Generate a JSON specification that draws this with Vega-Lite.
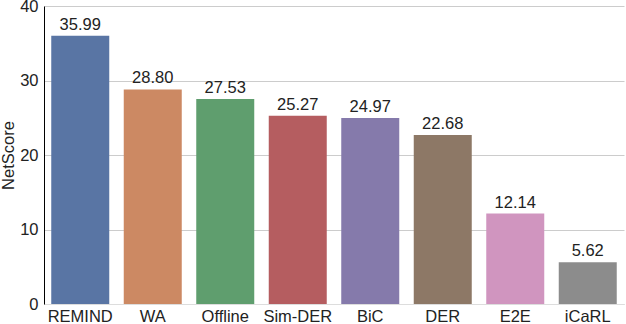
{
  "$schema": "https://vega.github.io/schema/vega-lite/v6.json",
  "autosize": {"type": "none"},
  "padding": {"left": 44, "top": 6, "right": 2, "bottom": 20},
  "width": 580,
  "height": 298,
  "config": {
    "view": {"stroke": null},
    "font": "Liberation Sans",
    "axis": {"labelFont": "Liberation Sans", "titleFont": "Liberation Sans", "labelColor": "#222", "titleColor": "#222", "titleFontWeight": "normal"}
  },
  "data": {"values": [
    {"method": "REMIND", "score": 35.99},
    {"method": "WA", "score": 28.80},
    {"method": "Offline", "score": 27.53},
    {"method": "Sim-DER", "score": 25.27},
    {"method": "BiC", "score": 24.97},
    {"method": "DER", "score": 22.68},
    {"method": "E2E", "score": 12.14},
    {"method": "iCaRL", "score": 5.62}
  ]},
  "encoding": {
    "x": {"field": "method", "type": "nominal", "sort": null, "title": null,
      "scale": {"paddingInner": 0.2, "paddingOuter": 0.1},
      "axis": {"labelAngle": 0, "labelFontSize": 16.5, "ticks": false, "labelPadding": 4, "domainColor": "#dddddd", "labelBaseline": "top"}},
    "y": {"field": "score", "type": "quantitative", "title": "NetScore",
      "scale": {"domain": [0, 40]},
      "axis": {"values": [0, 10, 20, 30, 40], "labelFontSize": 16.5, "titleFontSize": 16.5, "ticks": false, "labelPadding": 6, "domainColor": "#000000", "gridColor": "#cccccc", "titlePadding": 3}}
  },
  "layer": [
    {"mark": {"type": "bar"},
     "encoding": {"color": {"field": "method", "type": "nominal", "sort": null, "legend": null,
       "scale": {"domain": ["REMIND", "WA", "Offline", "Sim-DER", "BiC", "DER", "E2E", "iCaRL"],
                 "range": ["#5975A4", "#CC8963", "#5F9E6E", "#B55D60", "#857AAB", "#8D7866", "#D095BF", "#8C8C8C"]}}}},
    {"mark": {"type": "text", "baseline": "bottom", "dy": -3, "fontSize": 16.5, "color": "#222"},
     "encoding": {"text": {"field": "score", "type": "quantitative", "format": ".2f"}}}
  ]
}
